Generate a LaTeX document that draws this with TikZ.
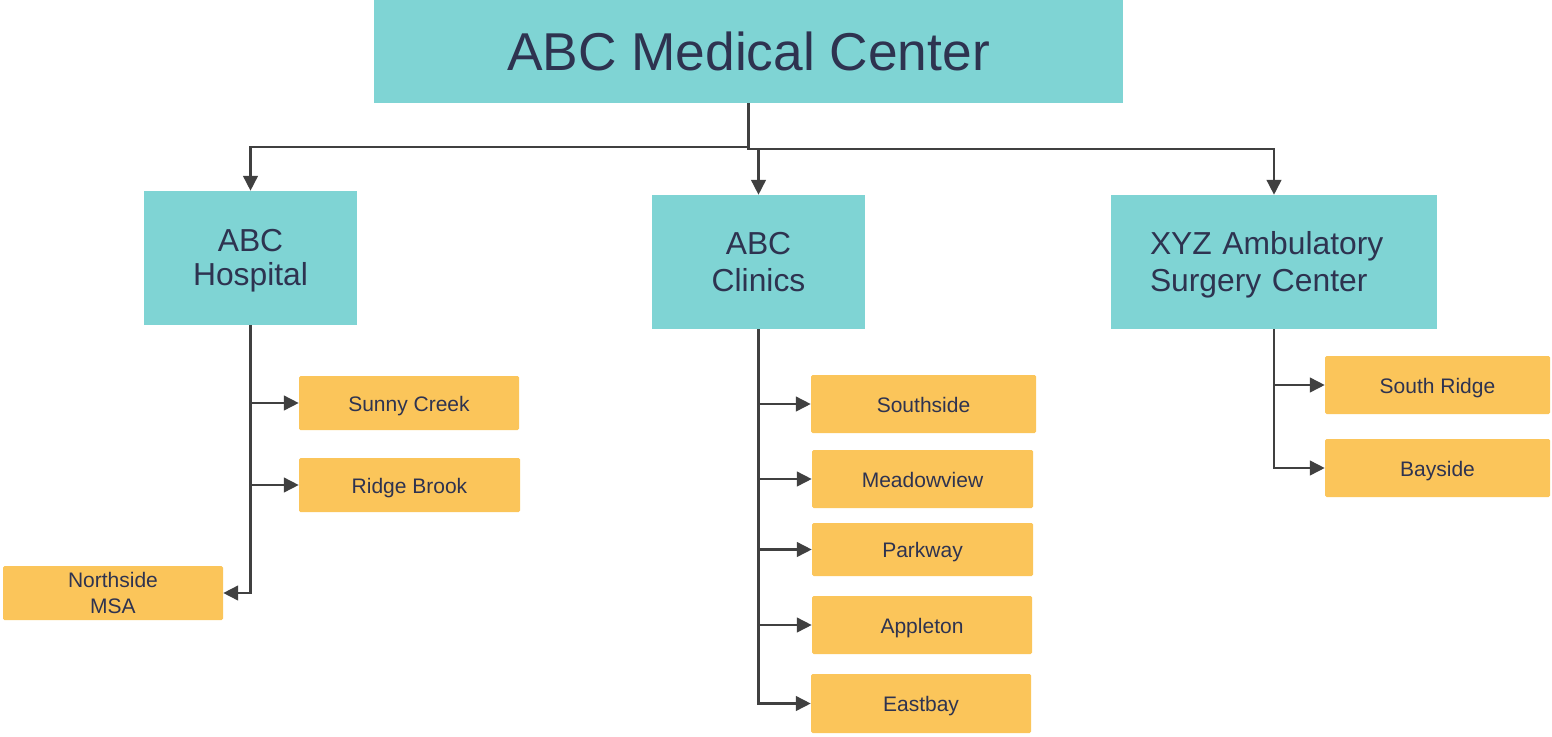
\documentclass[tikz,border=0pt]{standalone}
\usepackage{fontspec}
\setmainfont{Liberation Sans}
\usetikzlibrary{arrows.meta}
\definecolor{teal}{HTML}{7FD4D4}
\definecolor{orng}{HTML}{FBC55A}
\definecolor{ink}{HTML}{2E3350}
\definecolor{wire}{HTML}{404040}
\begin{document}
\begin{tikzpicture}[x=1pt,y=-1pt,
  tbox/.style={fill=teal,inner sep=0pt,text=ink,align=center,font=\fontsize{31.8}{37.5}\selectfont},
  obox/.style={fill=orng,inner sep=0pt,text=ink,align=center,rounded corners=1.5pt,font=\fontsize{21}{26}\selectfont},
  oone/.style={obox,text height=16pt,text depth=0pt},
  arr/.style={draw=wire,line width=2.8pt,-{Triangle[length=15pt,width=14.5pt]}}]
\useasboundingbox (0,0) rectangle (1552,736);
\node[tbox,minimum width=749pt,minimum height=103pt,font=\fontsize{53.3}{60}\selectfont] (top) at (748.5,51.5) {ABC Medical Center};
\node[tbox,minimum width=213pt,minimum height=134pt,font=\fontsize{31.8}{34}\selectfont] (hosp) at (250.5,258) {\rule{0pt}{26.8pt}ABC\\Hospital};
\node[tbox,minimum width=213pt,minimum height=134pt] (clin) at (758.5,262) {ABC\\Clinics};
\node[tbox,minimum width=326pt,minimum height=134pt,inner xsep=39pt,text width=248pt,align=left] (xyz) at (1274,262) {\rule{0pt}{28.2pt}XYZ Ambulatory\\Surgery Center};
\node[oone,minimum width=220pt,minimum height=54pt] (sunny) at (409,403) {Sunny Creek};
\node[oone,minimum width=221pt,minimum height=54pt] (ridge) at (409.5,485) {Ridge Brook};
\node[obox,minimum width=220pt,minimum height=54pt] (north) at (113,593) {Northside\\MSA};
\node[oone,minimum width=225pt,minimum height=58pt] (south) at (923.5,404) {Southside};
\node[oone,minimum width=221pt,minimum height=58pt] (meadow) at (922.5,479) {Meadowview};
\node[oone,minimum width=221pt,minimum height=53pt] (park) at (922.5,549.5) {Parkway};
\node[oone,minimum width=220pt,minimum height=58pt] (apple) at (922,625) {Appleton};
\node[oone,minimum width=220pt,minimum height=59pt] (eastb) at (921,703.5) {Eastbay};
\node[oone,minimum width=225pt,minimum height=58pt] (sridge) at (1437.5,385) {South Ridge};
\node[oone,minimum width=225pt,minimum height=58pt] (bay) at (1437.5,468) {Bayside};
\coordinate (j1) at (748.5,147);
\coordinate (j2) at (748.5,149);
\draw[arr] (top.south) -- (j1) -| (hosp.north);
\draw[arr] (j1) -- (j2) -| (xyz.north);
\draw[arr] (j2 -| clin.north) -- (clin.north);
\draw[arr] (hosp.south) |- (north.east);
\draw[arr] (hosp.south |- sunny.west) -- (sunny.west);
\draw[arr] (hosp.south |- ridge.west) -- (ridge.west);
\draw[arr] (clin.south) |- (eastb.west);
\draw[arr] (clin.south |- south.west) -- (south.west);
\draw[arr] (clin.south |- meadow.west) -- (meadow.west);
\draw[arr] (clin.south |- park.west) -- (park.west);
\draw[arr] (clin.south |- apple.west) -- (apple.west);
\draw[arr] (xyz.south) |- (bay.west);
\draw[arr] (xyz.south |- sridge.west) -- (sridge.west);
\end{tikzpicture}
\end{document}
